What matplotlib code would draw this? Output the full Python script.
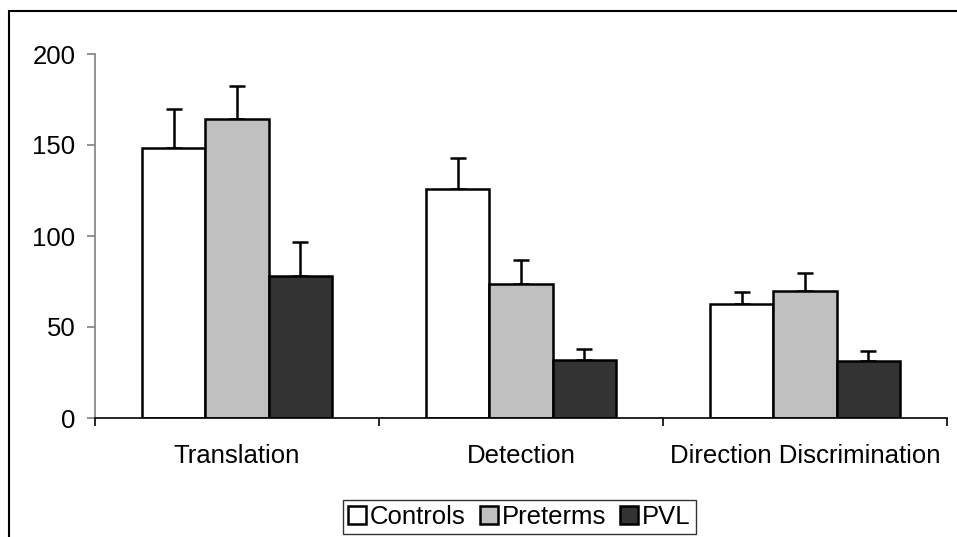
import numpy as np
import matplotlib
matplotlib.use('Agg')
import matplotlib.pyplot as plt
from matplotlib.patches import Rectangle

plt.rcParams['font.family'] = ['Liberation Sans', 'DejaVu Sans']

categories = ['Translation', 'Detection', 'Direction Discrimination']
groups = ['Controls', 'Preterms', 'PVL']
colors = ['#FFFFFF', '#C0C0C0', '#333333']

controls = [148.4, 126.0, 62.6]
preterms = [164.3, 73.8, 70.0]
pvl = [78.0, 32.0, 31.3]
controls_err = [21.4, 16.7, 6.4]
preterms_err = [17.9, 12.8, 9.5]
pvl_err = [18.5, 5.7, 5.5]

values = [controls, preterms, pvl]
errors = [controls_err, preterms_err, pvl_err]

W, H = 957, 537
fig = plt.figure(figsize=(W / 100, H / 100), dpi=100)
ax = fig.add_axes([95 / W, (H - 418) / H, (947 - 95) / W, (418 - 54) / H])

x = np.arange(len(categories))
width = 2 / 9
for i, (vals, errs) in enumerate(zip(values, errors)):
    pos = x + (i - 1) * width
    ax.bar(pos, vals, width, color=colors[i], edgecolor='black',
           linewidth=1.8, label=groups[i], zorder=2)
    ax.errorbar(pos, vals, yerr=[np.zeros(len(errs)), errs], fmt='none',
                ecolor='black', elinewidth=1.8, capsize=5.5, capthick=1.8,
                zorder=1)

ax.set_xlim(-0.5, 2.5)
ax.set_ylim(0, 200)
ax.set_yticks([0, 50, 100, 150, 200])
ax.set_xticks(x)
ax.set_xticklabels(categories)
ax.set_xticks([-0.5, 0.5, 1.5, 2.5], minor=True)

for s in ['top', 'right']:
    ax.spines[s].set_visible(False)
ax.spines['left'].set_color('#808080')
ax.spines['left'].set_linewidth(1.2)
ax.spines['left'].set_bounds(0, 200)
ax.spines['bottom'].set_color('black')
ax.spines['bottom'].set_linewidth(1.2)

ax.tick_params(axis='y', direction='out', length=6, width=1.2,
               color='#808080', labelsize=18.5, pad=8)
ax.tick_params(axis='x', which='major', length=0, labelsize=18.5, pad=19)
ax.tick_params(axis='x', which='minor', direction='out', length=6,
               width=1.2, color='black')

leg = ax.legend(loc='center', bbox_to_anchor=(519.5 / W, (H - 517) / H),
                bbox_transform=fig.transFigure, ncol=3, fontsize=18.5,
                frameon=True, fancybox=False, edgecolor='black',
                handlelength=0.7, handleheight=0.7, handletextpad=0.15,
                columnspacing=0.55, borderpad=0.2, borderaxespad=0)
leg.get_frame().set_linewidth(1.0)

# outer chart-area border (only left and top visible in the crop)
fig.patches.append(Rectangle((9 / W, -0.1), 1.2, (H - 11) / H + 0.1,
                             transform=fig.transFigure, fill=False,
                             edgecolor='black', linewidth=1.5))

fig.savefig('out.png', dpi=100)
